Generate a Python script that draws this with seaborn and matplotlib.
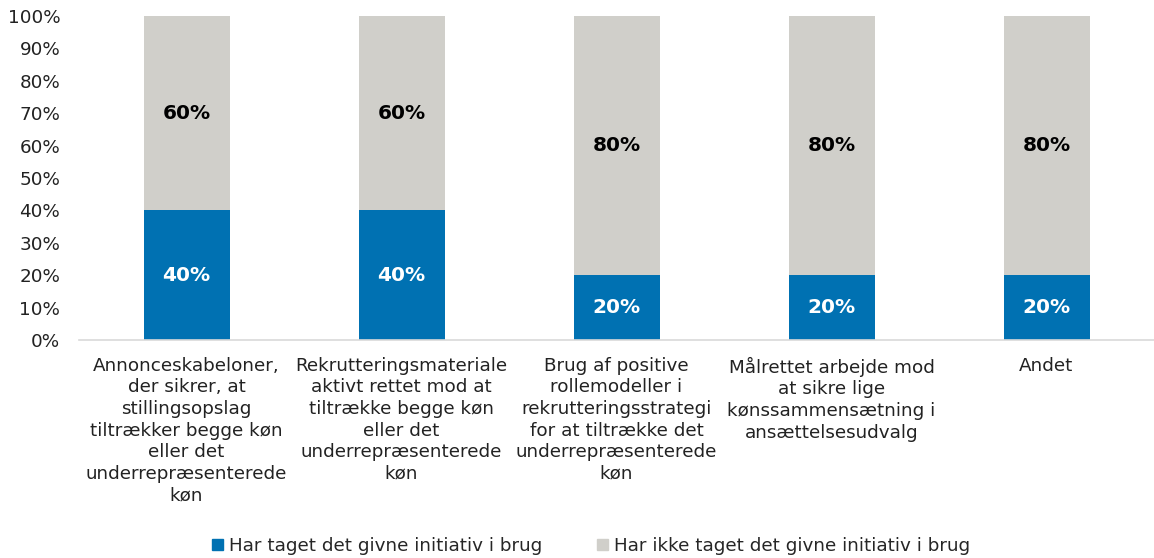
import numpy as np
import pandas as pd
import matplotlib.pyplot as plt
import seaborn as sns
from matplotlib.ticker import PercentFormatter
from matplotlib.patches import Patch

categories = [
    "Annonceskabeloner,\nder sikrer, at\nstillingsopslag\ntiltrækker begge køn\neller det\nunderrepræsenterede\nkøn",
    "Rekrutteringsmateriale\naktivt rettet mod at\ntiltrække begge køn\neller det\nunderrepræsenterede\nkøn",
    "Brug af positive\nrollemodeller i\nrekrutteringsstrategi\nfor at tiltrække det\nunderrepræsenterede\nkøn",
    "Målrettet arbejde mod\nat sikre lige\nkønssammensætning i\nansættelsesudvalg",
    "Andet",
]
taget = [0.40, 0.40, 0.20, 0.20, 0.20]
ikke_taget = [0.60, 0.60, 0.80, 0.80, 0.80]

blue = "#0071B2"
grey = "#D0CFCA"

sns.set_theme(style="white")
plt.rcParams['font.family'] = ['DejaVu Sans']

df = pd.DataFrame({"kategori": categories, "taget": taget, "ikke": ikke_taget})
df["total"] = df["taget"] + df["ikke"]

fig = plt.figure(figsize=(11.54, 5.58), dpi=100)
ax = fig.add_axes([79 / 1154, 1 - 340 / 558, 1 - 79 / 1154, 324 / 558])

# stacked bars: total (grey) first, blue share drawn over it
sns.barplot(data=df, x="kategori", y="total", color=grey, width=0.4, ax=ax,
            saturation=1, edgecolor="none")
sns.barplot(data=df, x="kategori", y="taget", color=blue, width=0.4, ax=ax,
            saturation=1, edgecolor="none")

for i, (t, k) in enumerate(zip(taget, ikke_taget)):
    ax.text(i, t / 2, f"{t:.0%}", ha="center", va="center", color="white",
            fontsize=14.5, fontweight="bold")
    ax.text(i, t + k / 2, f"{k:.0%}", ha="center", va="center", color="black",
            fontsize=14.5, fontweight="bold")

ax.set_xlim(-0.5, 4.5)
ax.set_ylim(0, 1)
ax.set_yticks(np.arange(0, 1.01, 0.1))
ax.yaxis.set_major_formatter(PercentFormatter(1.0, decimals=0))
ax.set_xlabel("")
ax.set_ylabel("")
ax.tick_params(axis="y", labelsize=13.2, colors="#222222", pad=13.5, length=0)
ax.tick_params(axis="x", labelsize=13.2, colors="#222222", pad=12, length=0)
for lbl in ax.get_xticklabels():
    lbl.set_linespacing(1.26)
    lbl.set_va("top")

for side in ["top", "right", "left"]:
    ax.spines[side].set_visible(False)
ax.spines["bottom"].set_color("#D9D9D9")
ax.spines["bottom"].set_linewidth(1.2)

handles = [Patch(color=blue, label="Har taget det givne initiativ i brug"),
           Patch(color=grey, label="Har ikke taget det givne initiativ i brug")]
fig.legend(handles=handles, loc="center", bbox_to_anchor=(591 / 1154, 1 - 546 / 558),
           ncol=2, frameon=False, fontsize=13.2, handlelength=0.6, handleheight=0.6,
           handletextpad=0.3, columnspacing=3.0)

fig.savefig("out.png", dpi=100)
